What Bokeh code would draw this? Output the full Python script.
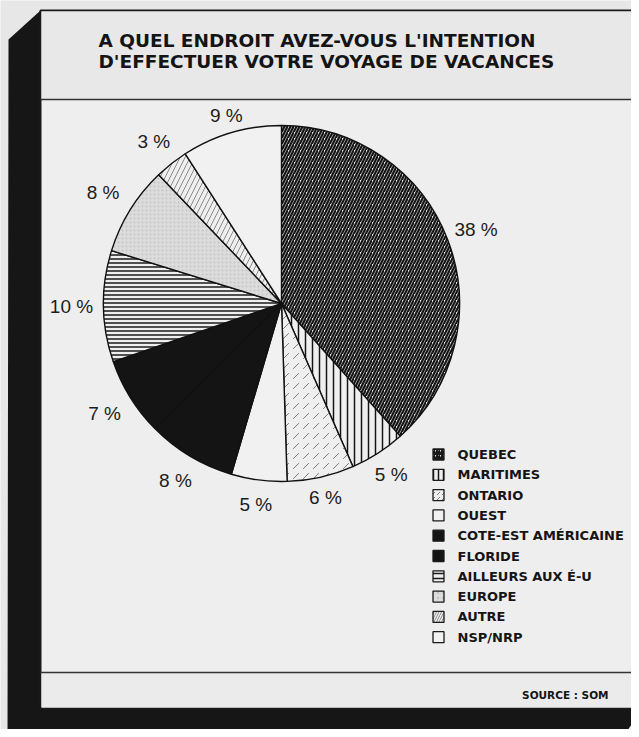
import numpy as np
from bokeh.plotting import figure
from bokeh.models import ColumnDataSource, Range1d
from bokeh.core.properties import value
from bokeh.embed import file_html
from bokeh.resources import INLINE

# ---------------- data ----------------
categories = ["QUEBEC", "MARITIMES", "ONTARIO", "OUEST", "COTE-EST AMÉRICAINE",
              "FLORIDE", "AILLEURS AUX É-U", "EUROPE", "AUTRE", "NSP/NRP"]
values = [38, 5, 6, 5, 8, 7, 10, 8, 3, 9]
title_lines = ["A QUEL ENDROIT AVEZ-VOUS L'INTENTION",
               "D'EFFECTUER VOTRE VOYAGE DE VACANCES"]
source_text = "SOURCE : SOM"

# ---------------- styles ----------------
fills = ["#e9e9e9", "#efefef", "#efefef", "#f1f1f1", "#141414",
         "#141414", "#efefef", "#dcdcdc", "#efefef", "#f1f1f1"]
hatches = ["right_diagonal_line", "vertical_line", "right_diagonal_dash", "blank", "blank",
           "blank", "horizontal_line", "dot", "right_diagonal_line", "blank"]
hatch_colors = ["#151515", "#151515", "#7a7a7a", "#000000", "#000000",
                "#000000", "#1a1a1a", "#c4c4c4", "#8a8a8a", "#000000"]
hatch_scales = [6, 7, 10, 6, 6, 6, 4, 4, 10, 6]
hatch_weights = [2.2, 1.5, 1.0, 1, 1, 1, 1.5, 0.6, 1.0, 1]

W, H = 631, 729
def Y(yimg):       # image y (top-down) -> data y (bottom-up)
    return H - yimg

p = figure(width=W, height=H, output_backend="svg", toolbar_location=None,
           x_range=Range1d(0, W), y_range=Range1d(0, H), min_border=0)
p.axis.visible = False
p.grid.visible = False
p.outline_line_color = None
p.background_fill_color = "#e7e7e7"
p.border_fill_color = "#e7e7e7"

# ---------------- frame ----------------
shadow_x = [40, 8, 7, 620, 640, 640, 40]
shadow_y = [Y(10), Y(39), Y(740), Y(740), Y(711), Y(700), Y(700)]
p.patch(shadow_x, shadow_y, fill_color="#161616", line_color=None)
# panel
p.quad(left=40, right=637, top=Y(10), bottom=Y(708), fill_color="#eeeeee",
       line_color="#1a1a1a", line_width=2)
p.quad(left=41, right=636, top=Y(11), bottom=Y(99), fill_color="#e8e8e8", line_color=None)
p.quad(left=41, right=636, top=Y(672), bottom=Y(707), fill_color="#ebebeb", line_color=None)
p.segment(x0=[40, 40], y0=[Y(99), Y(672)], x1=[637, 637], y1=[Y(99), Y(672)],
          line_color="#333333", line_width=1.6)

# ---------------- pie ----------------
cx, cy, R = 281, Y(303), 178
vals = np.array(values, dtype=float)
frac = vals / vals.sum()
cum = np.concatenate([[0], np.cumsum(frac)])
start = np.pi / 2 - 2 * np.pi * cum[:-1]
end = np.pi / 2 - 2 * np.pi * cum[1:]
mid = (start + end) / 2

src = ColumnDataSource(dict(cat=categories, val=values, start=start, end=end,
                            fill=fills, hatch=hatches, hcol=hatch_colors,
                            hscale=hatch_scales, hweight=hatch_weights))
p.wedge(x=cx, y=cy, radius=R, start_angle="start", end_angle="end", direction="clock",
        source=src, fill_color="fill", line_color="#111111", line_width=1.4,
        hatch_pattern="hatch", hatch_color="hcol", hatch_scale="hscale",
        hatch_weight="hweight")

# percent labels
lr = np.array([1.17, 1.14, 1.12, 1.14, 1.16, 1.17, 1.18, 1.18, 1.16, 1.10]) * R
lab_src = ColumnDataSource(dict(x=cx + lr * np.cos(mid), y=cy + lr * np.sin(mid),
                                t=[f"{v} %" for v in values]))
p.text(x="x", y="y", text="t", source=lab_src, text_align="center",
       text_baseline="middle", text_font=value("Liberation Sans"),
       text_font_size="19px", text_color="#1c1c1c")

# ---------------- legend ----------------
n = len(categories)
leg_y = [Y(454 + 20.3 * i) for i in range(n)]
leg_src = ColumnDataSource(dict(x=[438] * n, y=leg_y, tx=[457] * n, cat=categories,
                                fill=fills, hatch=hatches, hcol=hatch_colors,
                                hweight=hatch_weights))
p.rect(x="x", y="y", width=11, height=11, source=leg_src, fill_color="fill",
       line_color="#1a1a1a", line_width=1.3, hatch_pattern="hatch",
       hatch_color="hcol", hatch_scale=5, hatch_weight="hweight")
p.text(x="tx", y="y", text="cat", source=leg_src, text_align="left",
       text_baseline="middle", text_font=value("DejaVu Sans"),
       text_font_style="bold", text_font_size="13px", text_color="#151515")

# ---------------- titles ----------------
p.text(x=[98, 98], y=[Y(40), Y(61)], text=title_lines, text_align="left",
       text_baseline="middle", text_font=value("DejaVu Sans"),
       text_font_style="bold", text_font_size="18.5px", text_color="#141414")
p.text(x=[608], y=[Y(694)], text=[source_text], text_align="right",
       text_baseline="middle", text_font=value("DejaVu Sans"),
       text_font_style="bold", text_font_size="10.5px", text_color="#141414")

open("out.html", "w").write(file_html(p, INLINE))
